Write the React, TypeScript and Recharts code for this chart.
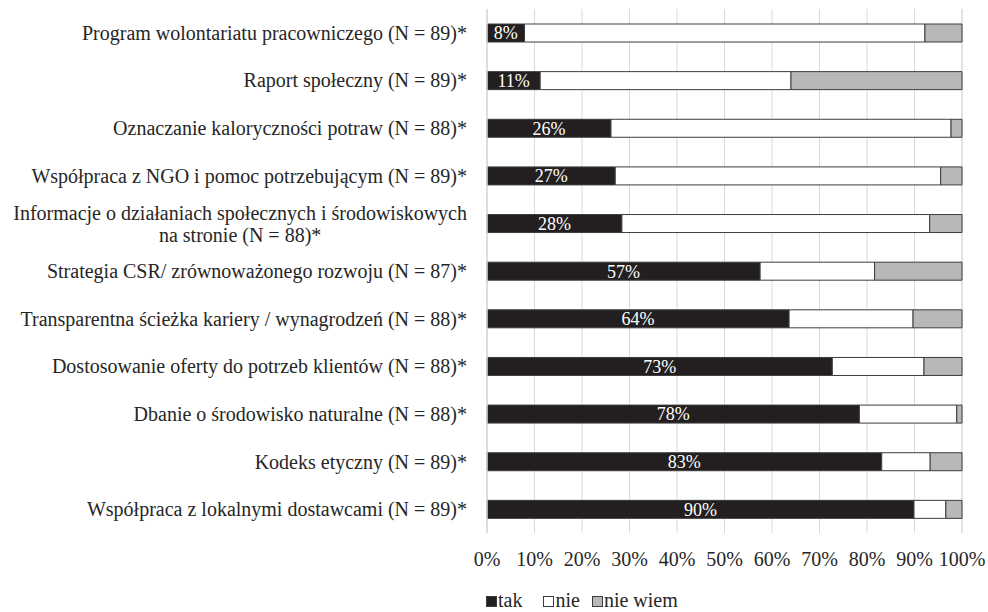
import React from "react";
import { BarChart, Bar, XAxis, YAxis, CartesianGrid, Legend, LabelList } from "recharts";

const categories = [
  "Program wolontariatu pracowniczego (N = 89)*",
  "Raport społeczny (N = 89)*",
  "Oznaczanie kaloryczności potraw (N = 88)*",
  "Współpraca z NGO i pomoc potrzebującym (N = 89)*",
  "Informacje o działaniach społecznych i środowiskowych\nna stronie (N = 88)*",
  "Strategia CSR/ zrównoważonego rozwoju (N = 87)*",
  "Transparentna ścieżka kariery / wynagrodzeń (N = 88)*",
  "Dostosowanie oferty do potrzeb klientów (N = 88)*",
  "Dbanie o środowisko naturalne (N = 88)*",
  "Kodeks etyczny (N = 89)*",
  "Współpraca z lokalnymi dostawcami (N = 89)*",
];
const tak = [7.9, 11.2, 26.1, 27.0, 28.4, 57.5, 63.6, 72.7, 78.4, 83.1, 89.9];
const nie = [84.3, 52.8, 71.6, 68.5, 64.8, 24.1, 26.1, 19.3, 20.5, 10.2, 6.7];
const nieWiem = [7.8, 36.0, 2.3, 4.5, 6.8, 18.4, 10.3, 8.0, 1.1, 6.7, 3.4];
const takLabels = ["8%", "11%", "26%", "27%", "28%", "57%", "64%", "73%", "78%", "83%", "90%"];
const xTicks = [0, 10, 20, 30, 40, 50, 60, 70, 80, 90, 100];
const seriesNames = ["tak", "nie", "nie wiem"];

const data = categories.map((name, i) => ({
  name,
  tak: tak[i],
  nie: nie[i],
  nieWiem: nieWiem[i],
  takLabel: takLabels[i],
}));

const FONT = "'Liberation Serif', 'Times New Roman', serif";
const FS = 20;
const TEXT = "#262626";
const COL_TAK = "#231f20";
const COL_NIE = "#ffffff";
const COL_NW = "#b7b8ba";
const STROKE = "#3c3c3c";

let ctx: CanvasRenderingContext2D | null = null;
function measure(t: string) {
  if (!ctx) ctx = document.createElement("canvas").getContext("2d");
  if (!ctx) return t.length * FS * 0.45;
  ctx.font = `${FS}px 'Liberation Serif'`;
  return ctx.measureText(t).width;
}

const YTick = (props: any) => {
  const { x, y, payload } = props;
  const lines: string[] = String(payload.value).split("\n");
  if (lines.length === 1) {
    return (
      <text x={x} y={y} dy="0.35em" textAnchor="end" fontFamily={FONT} fontSize={FS} fill={TEXT}>
        {lines[0]}
      </text>
    );
  }
  const widths = lines.map(measure);
  const maxW = Math.max(...widths);
  const cx = x - maxW / 2;
  const lh = 22;
  const start = y - ((lines.length - 1) * lh) / 2 + 1;
  return (
    <g>
      {lines.map((l, i) => (
        <text key={i} x={cx} y={start + i * lh} dy="0.35em" textAnchor="middle" fontFamily={FONT} fontSize={FS} fill={TEXT}>
          {l}
        </text>
      ))}
    </g>
  );
};

const legendGaps = [21, 12, 0];

const LegendContent = () => {
  const cols = [COL_TAK, COL_NIE, COL_NW];
  return (
    <div style={{ height: 24, boxSizing: "border-box", paddingLeft: 486, paddingTop: 2, fontFamily: FONT, fontSize: FS, color: TEXT }}>
      <div style={{ display: "flex", alignItems: "center", height: 20, lineHeight: "20px" }}>
        {seriesNames.map((n, i) => (
          <span key={n} style={{ display: "inline-flex", alignItems: "center", marginRight: legendGaps[i], lineHeight: "20px" }}>
            <svg width={11} height={11} style={{ marginRight: 1, position: "relative", top: 1 }}>
              <rect x={0.5} y={0.5} width={10} height={10} fill={cols[i]} stroke={STROKE} strokeWidth={1} />
            </svg>
            {n}
          </span>
        ))}
      </div>
    </div>
  );
};

export default function App() {
  return (
    <div style={{ position: "absolute", left: 0, top: 0, width: 988, height: 612, background: "#fff" }}>
      <BarChart
        width={988}
        height={612}
        data={data}
        layout="vertical"
        margin={{ top: 9, right: 26, bottom: 0, left: 0 }}
      >
        <CartesianGrid horizontal={false} stroke="#d9d9d9" strokeWidth={1} />
        <XAxis
          type="number"
          domain={[0, 100]}
          ticks={xTicks}
          tickFormatter={(v: number) => `${v}%`}
          axisLine={false}
          tickLine={false}
          tickSize={0}
          tickMargin={19}
          height={55}
          interval={0}
          tick={{ fontFamily: FONT, fontSize: FS, fill: TEXT }}
        />
        <YAxis
          type="category"
          dataKey="name"
          width={487}
          tick={<YTick />}
          tickLine={false}
          tickSize={0}
          tickMargin={20}
          axisLine={{ stroke: "#d9d9d9", strokeWidth: 1.5 }}
          interval={0}
        />
        <Legend verticalAlign="bottom" align="left" content={<LegendContent />} />
        <Bar dataKey="tak" name="tak" stackId="a" fill={COL_TAK} stroke={STROKE} strokeWidth={1} barSize={18} isAnimationActive={false}>
          <LabelList dataKey="takLabel" position="center" fill="#ffffff" fontFamily={FONT} fontSize={18} />
        </Bar>
        <Bar dataKey="nie" name="nie" stackId="a" fill={COL_NIE} stroke={STROKE} strokeWidth={1} barSize={18} isAnimationActive={false} />
        <Bar dataKey="nieWiem" name="nie wiem" stackId="a" fill={COL_NW} stroke={STROKE} strokeWidth={1} barSize={18} isAnimationActive={false} />
      </BarChart>
    </div>
  );
}
